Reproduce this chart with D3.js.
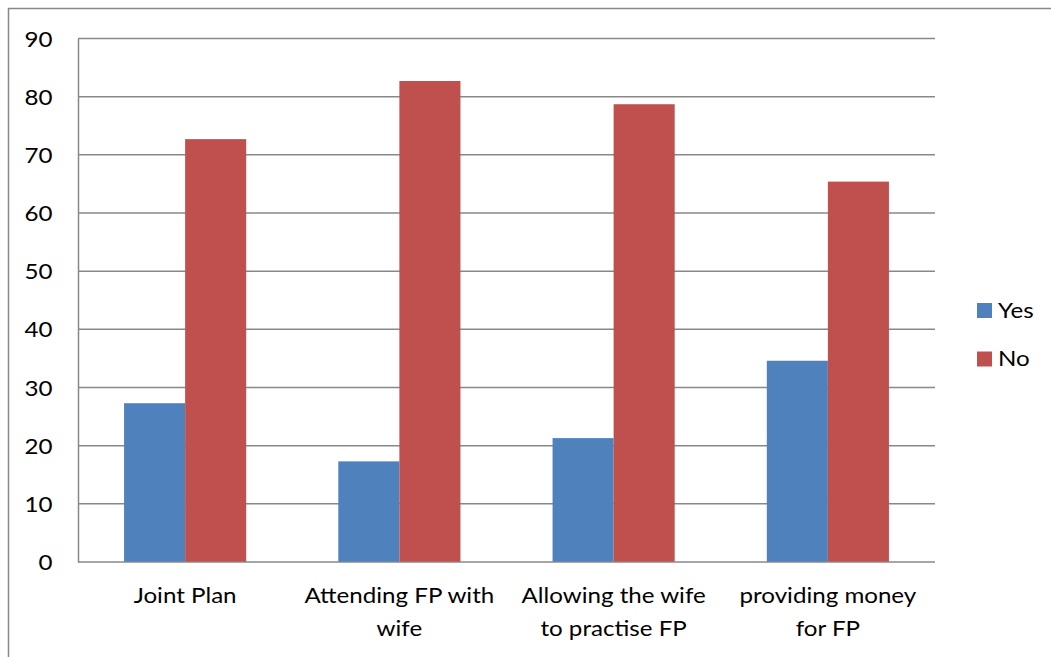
<!DOCTYPE html>
<html>
<head>
<meta charset="utf-8">
<script src="https://cdn.jsdelivr.net/npm/d3@7"></script>
<style>
  html, body { margin: 0; padding: 0; background: #fff; }
  svg text { font-family: Lato, "Open Sans", sans-serif; fill: #000; }
</style>
</head>
<body>
<svg id="chart" width="1051" height="657"></svg>
<script>
// Category labels, split into display lines
const categories = [
  ["Joint Plan"],
  ["Attending FP with", "wife"],
  ["Allowing the wife", "to practise FP"],
  ["providing money", "for FP"]
];
const seriesNames = ["Yes", "No"];
const yesValues = [27.3, 17.3, 21.3, 34.6];
const noValues  = [72.7, 82.7, 78.7, 65.4];
const yTicks = [0, 10, 20, 30, 40, 50, 60, 70, 80, 90];
const colors = ["#4F81BD", "#C0504D"];

const svg = d3.select("#chart");
const W = 1051, H = 657;
const plot = { left: 78, right: 935, top: 38.5, bottom: 562 };
const textScaleX = 1.15;   // widen the glyphs slightly
const gridColor = "#888888";

// Outer chart frame
svg.append("rect")
  .attr("x", 8.5).attr("y", 8.5)
  .attr("width", W + 20).attr("height", H + 20)
  .attr("fill", "#fff")
  .attr("stroke", gridColor).attr("stroke-width", 1.5);

const keys = categories.map((c, i) => i);
const x0 = d3.scaleBand().domain(keys).range([plot.left, plot.right])
  .paddingInner(0.43).paddingOuter(0.215);
const x1 = d3.scaleBand().domain(seriesNames).range([0, x0.bandwidth()]);
const y = d3.scaleLinear().domain([0, 90]).range([plot.bottom, plot.top]);

// Horizontal gridlines
svg.append("g").selectAll("line")
  .data(yTicks.filter(t => t > 0))
  .join("line")
  .attr("x1", plot.left).attr("x2", plot.right)
  .attr("y1", d => y(d)).attr("y2", d => y(d))
  .attr("stroke", gridColor).attr("stroke-width", 1.5);

// Bars
const rows = keys.map(i => ({ i, vals: [yesValues[i], noValues[i]] }));
const groups = svg.append("g").selectAll("g")
  .data(rows).join("g")
  .attr("transform", d => `translate(${x0(d.i)},0)`);
groups.selectAll("rect")
  .data(d => d.vals.map((v, k) => ({ key: seriesNames[k], v, k })))
  .join("rect")
  .attr("x", d => x1(d.key))
  .attr("width", x1.bandwidth())
  .attr("y", d => y(d.v))
  .attr("height", d => y(0) - y(d.v))
  .attr("fill", d => colors[d.k]);

// Y axis
const yAxis = svg.append("g")
  .attr("transform", `translate(${plot.left},0)`)
  .call(d3.axisLeft(y).tickValues(yTicks).tickSize(0).tickPadding(0).tickFormat(d3.format("d")));
yAxis.select(".domain").attr("stroke", gridColor).attr("stroke-width", 1.5);
yAxis.selectAll(".tick text")
  .attr("font-size", 21)
  .attr("text-anchor", "end")
  .attr("dy", "0.36em")
  .attr("transform", `translate(-25.5,0) scale(${textScaleX},1)`)
  .attr("x", 0);

// X axis baseline
svg.append("line")
  .attr("x1", plot.left).attr("x2", plot.right)
  .attr("y1", y(0)).attr("y2", y(0))
  .attr("stroke", gridColor).attr("stroke-width", 1.5);

// Category labels
const xl = svg.append("g").selectAll("text")
  .data(keys).join("text")
  .attr("font-size", 21)
  .attr("text-anchor", "middle")
  .attr("transform", i => `translate(${x0(i) + x0.bandwidth() / 2},603) scale(${textScaleX},1)`);
xl.selectAll("tspan")
  .data(i => categories[i])
  .join("tspan")
  .attr("x", 0)
  .attr("y", (d, j) => j * 33)
  .text(d => d);

// Legend
const legend = svg.append("g").selectAll("g")
  .data(seriesNames).join("g")
  .attr("transform", (d, k) => `translate(977,${303 + k * 48.5})`);
legend.append("rect")
  .attr("width", 15).attr("height", 15)
  .attr("fill", (d, k) => colors[k]);
legend.append("text")
  .attr("font-size", 21)
  .attr("transform", `translate(21,14.5) scale(${textScaleX},1)`)
  .text(d => d);
</script>
</body>
</html>
